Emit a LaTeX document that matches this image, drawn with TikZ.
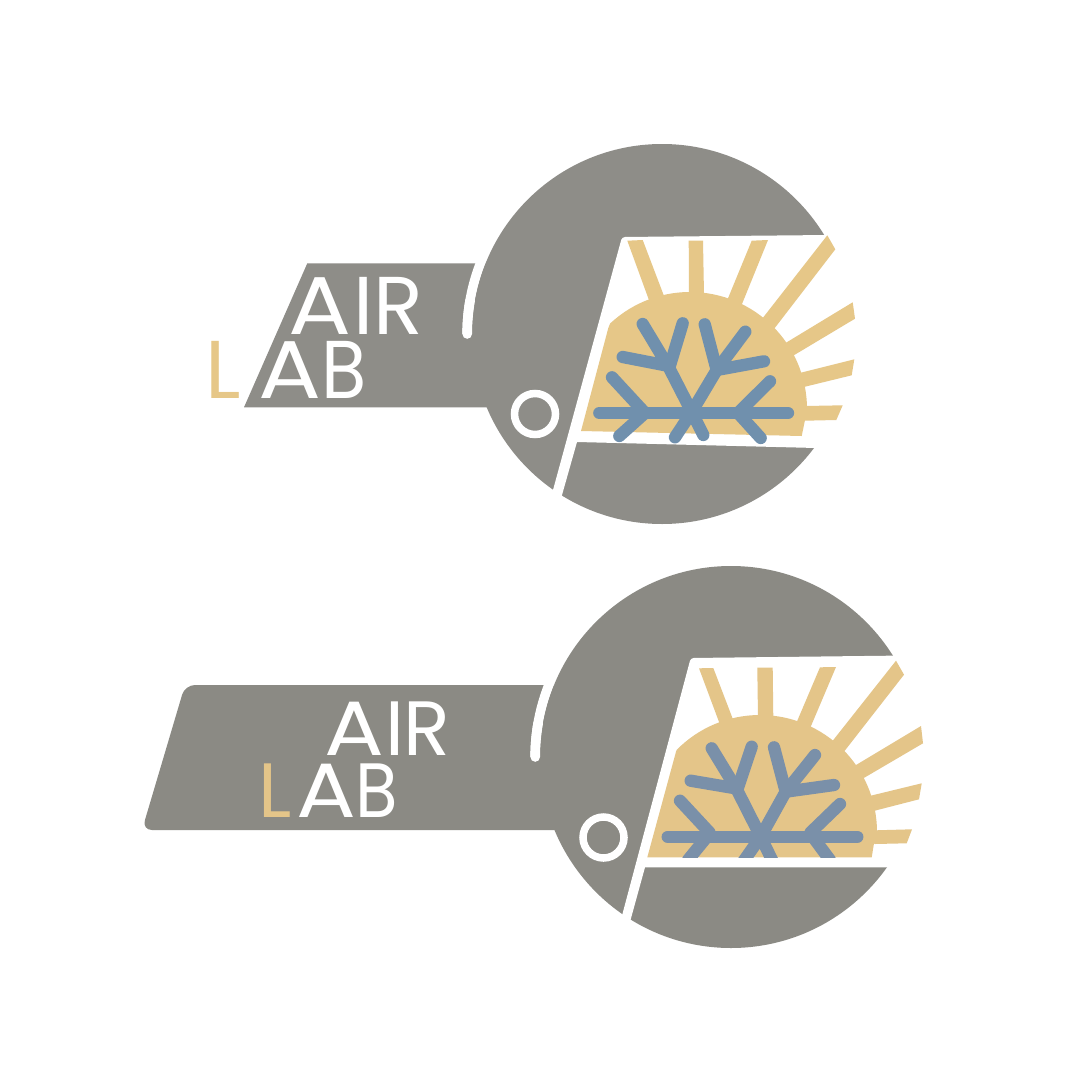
\documentclass[tikz,border=0pt]{standalone}
\usepackage{fontspec}
\usepackage{graphicx}
\newfontfamily\logofont{Poppins}
\definecolor{logogray}{HTML}{8E8D88}
\definecolor{logograyb}{HTML}{8B8A84}
\definecolor{logogold}{HTML}{E6C788}
\definecolor{logogoldb}{HTML}{E4C589}
\definecolor{logoblue}{HTML}{7090AD}
\definecolor{logoblueb}{HTML}{7A90A9}
\tikzset{
  cutout/.style={fill=white},
  groove/.style={draw=white,line width=9.6pt},
  groovetip/.style={draw=white,line width=9.6pt,line cap=round},
  eye/.style={draw=white,line width=7.5pt},
  flake/.style={line width=12.3pt,line cap=round,line join=round},
  lettering/.style={anchor=base west,inner sep=0pt,outer sep=0pt,text=white}
}
\newcommand{\gapx}[1]{\kern#1pt\relax}
\newcommand{\wideA}[1]{\scalebox{#1}[1]{A}}
\newcommand{\slimB}{\scalebox{0.9}[1]{B}}
\begin{document}
\begin{tikzpicture}[x=1pt,y=-1pt]
\useasboundingbox (0,0) rectangle (1081,1081);
\fill[white] (0,0) rectangle (1081,1081);

% ---------- upper logo ----------
\begin{scope}[fill=logogray]
\fill (307.3,263.3) -- (520,263.3) -- (520,407.3) -- (244,407.3) -- cycle;
\draw[groove] plot[smooth,domain=180:215,samples=36] ({662+194.8*cos(\x)},{334+194.8*sin(\x)});
\fill (662,334) circle[radius=190];
\end{scope}
\draw[groovetip] plot[smooth,domain=180:190,samples=11] ({662+194.8*cos(\x)},{334+194.8*sin(\x)});
\fill[cutout] (545,519) -- (553,490) [rounded corners=3pt] -- (622,237) [sharp corners] -- (880,234.5) -- (880,449.6) -- (577,442) -- (562,495) -- (556,516) -- cycle;
\draw[eye] (535,414) circle[radius=20.5];
\begin{scope}[fill=logogold]
\begin{scope}
\clip (581,431) -- (608.3,328) -- (640,250) -- (840,250) -- (807,406) -- (805,420) -- (801.7,436) -- cycle;
\fill (690,409) circle[radius=117];
\end{scope}
\fill (627.3,240.7) -- (642.7,240) -- (664,296) -- (690,409) -- (649.3,301) -- cycle;
\fill (688.7,240.7) -- (703,240.7) -- (704,295) -- (690,409) -- (689,295) -- cycle;
\fill (751.7,240.7) -- (768,240) -- (742,304) -- (690,409) -- (728,298.3) -- cycle;
\fill (827.3,235.3) -- (835.3,249.3) -- (775.3,327.3) -- (690,409) -- (763.3,317.3) -- cycle;
\fill (852.7,302.3) -- (855,318.7) -- (794.3,355) -- (690,409) -- (786.7,342.3) -- cycle;
\fill (854.3,359.3) -- (851.7,375.3) -- (805,386.7) -- (690,409) -- (800.7,372.7) -- cycle;
\fill (842.7,405.3) -- (836.3,420) -- (805,420.7) -- (790,415) -- (805.7,406) -- cycle;
\end{scope}
\begin{scope}[flake,draw=logoblue]
\draw (599.3,413) -- (788,413);
\draw (675,437.3) -- (691.7,412) -- (669,367.7) -- (642.7,324);
\draw (682.7,323.3) -- (669.5,367);
\draw (622.7,357) -- (669,366);
\draw (703.3,435) -- (691.7,412) -- (716.7,370) -- (745.3,331.7);
\draw (704.7,324.3) -- (716.7,370) -- (764,361.3);
\draw (612,377.3) -- (645,413) -- (619.3,436);
\draw (770,381.3) -- (738,413) -- (760.7,438);
\end{scope}
\node[lettering,font=\logofont\fontsize{82}{82}\selectfont] (airA) at (288.3,334) {\wideA{1.14}\gapx{1.9}I\gapx{0.5}R};
\node[lettering,font=\logofont\fontsize{82}{82}\selectfont] (labA) at (205,398.7) {\textcolor{logogold}{L}\gapx{18.5}\wideA{1.14}\gapx{-0.3}\slimB};

% ---------- lower logo ----------
\begin{scope}[fill=logograyb]
\fill[rounded corners=10pt] (590,685) -- (185,685) -- (142,830) -- (590,830) -- cycle;
\draw[groove] plot[smooth,domain=180:215,samples=36] ({731+195.8*cos(\x)},{757+195.8*sin(\x)});
\fill (731,757) circle[radius=191];
\end{scope}
\draw[groovetip] plot[smooth,domain=180:190,samples=11] ({731+195.8*cos(\x)},{757+195.8*sin(\x)});
\fill[cutout] (617,934) -- (622.7,913) [rounded corners=3pt] -- (690.7,658) [sharp corners] -- (950,655) -- (950,867.3) -- (645,867.3) -- (630.7,919.3) -- (626,936) -- cycle;
\draw[eye] (603.5,837.5) circle[radius=20.5];
\begin{scope}[fill=logogoldb]
\begin{scope}
\clip (647.3,857.3) -- (676,751.7) -- (705,670) -- (905,670) -- (877,830) -- (874,843.3) -- (871.7,857.3) -- cycle;
\fill (760,832) circle[radius=117];
\end{scope}
\fill (699,668.3) -- (713.3,668) -- (732.7,718.7) -- (760,832) -- (719.3,722.7) -- cycle;
\fill (757.3,667.7) -- (772.7,667.7) -- (773.3,718) -- (760,832) -- (758,718) -- cycle;
\fill (820,667.3) -- (836,667) -- (810.7,726.7) -- (760,832) -- (797.3,720.7) -- cycle;
\fill (896,660.7) -- (904,674.7) -- (845.3,750) -- (760,832) -- (833.3,740) -- cycle;
\fill (921,726) -- (923,743.3) -- (865,777.3) -- (760,832) -- (856,765) -- cycle;
\fill (921.7,783.3) -- (919,799.3) -- (874.7,810.7) -- (760,832) -- (870.7,795.7) -- cycle;
\fill (912,829.3) -- (906.7,843.3) -- (875,844) -- (860,838) -- (875.7,830.3) -- cycle;
\end{scope}
\begin{scope}
\clip (600,600) rectangle (950,857.3);
\begin{scope}[flake,draw=logoblueb]
\draw (667.7,836.7) -- (857.3,836.7);
\draw (743,862) -- (760.7,836.7) -- (736.7,789.3) -- (711.7,748.3);
\draw (751.7,746.7) -- (737.5,789);
\draw (690.7,780.7) -- (736.7,788.5);
\draw (773,862) -- (760.7,836.7) -- (785.7,791.7) -- (815,755);
\draw (774,747.3) -- (785.7,791.7) -- (834,785);
\draw (680,800.7) -- (710,833) -- (688,860);
\draw (840,804) -- (810,833) -- (830,860);
\end{scope}
\end{scope}
\node[lettering,font=\logofont\fontsize{77}{77}\selectfont] (airB) at (324.2,755) {\wideA{1.153}\gapx{1.4}I\gapx{-0.6}R};
\node[lettering,font=\logofont\fontsize{77}{77}\selectfont] (labB) at (258.5,817) {\textcolor{logogoldb}{L}\gapx{4.7}\wideA{1.153}\gapx{-0.5}\slimB};
\end{tikzpicture}
\end{document}
